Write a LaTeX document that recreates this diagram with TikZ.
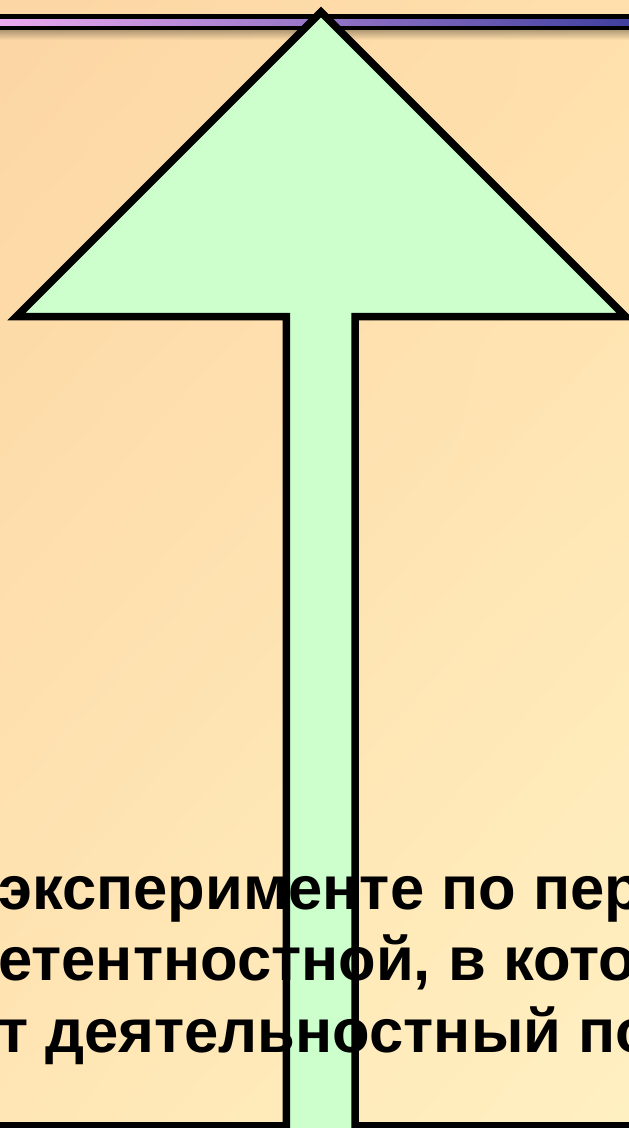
\documentclass[tikz,border=0pt]{standalone}
\usepackage{fontspec}
\usetikzlibrary{shadings}
\setmainfont{Liberation Sans}
\definecolor{bgTL}{RGB}{252,214,164}
\definecolor{bgTR}{RGB}{255,224,172}
\definecolor{bgBL}{RGB}{255,230,180}
\definecolor{bgBR}{RGB}{255,240,194}
\definecolor{barL}{RGB}{236,170,240}
\definecolor{barR}{RGB}{64,64,160}
\definecolor{arrowfill}{RGB}{204,255,204}
\tikzset{
  bigarrow/.style={draw=black, fill=arrowfill, line width=7.5pt, miter limit=20, line join=miter},
  textline/.style={anchor=base west, inner sep=0pt, font=\fontsize{61.5}{72}\selectfont\bfseries, text=black}
}
\begin{document}
\begin{tikzpicture}[x=1pt,y=-1pt]
\useasboundingbox (0,0) rectangle (629,1128);
\clip (0,0) rectangle (629,1128);
% background
\shade[upper left=bgTL, upper right=bgTR, lower left=bgBL, lower right=bgBR] (0,0) rectangle (629,1128);
% top bar
\fill[black] (0,14) rectangle (629,30);
\shade[left color=barL, right color=barR] (0,19.5) rectangle (629,25);
\foreach \i in {0,...,9}{
  \fill[black, opacity={0.3*(1-\i/10)}] (0,30+\i) rectangle (629,31+\i);
}
% bottom line
\fill[black] (0,1122) rectangle (629,1128);
% arrow
\coordinate (tip) at (321,12);
\coordinate (rc) at (625.5,316.5);
\coordinate (rs) at (355.2,316.5);
\coordinate (rb) at (355.2,1145);
\coordinate (lb) at (286.4,1145);
\coordinate (ls) at (286.4,316.5);
\coordinate (lc) at (16.5,316.5);
\draw[bigarrow] (tip) -- (rc) -- (rs) -- (rb) -- (lb) -- (ls) -- (lc) -- cycle;
% text
\node[textline] (t1) at (-2,909) {эксперименте по пер};
\node[textline] (t2) at (-2,980) {етентностной, в кото};
\node[textline] (t3) at (-2,1052) {т деятельностный по};
\end{tikzpicture}
\end{document}
